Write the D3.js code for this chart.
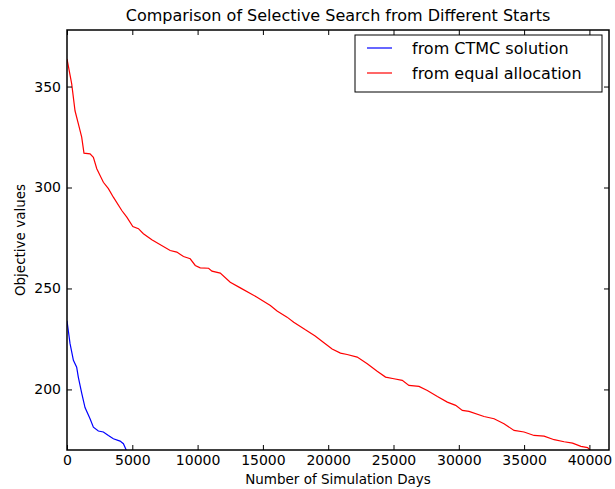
<!DOCTYPE html>
<html lang="en">
  <head>
    <meta charset="UTF-8" />
    <title>selective search comparison</title>
    <style type="text/css">
      html,
      body {
        margin: 0;
        padding: 0;
        background: #fff;
        font-family: "DejaVu Sans", sans-serif;
      }

      .tick text {
        font-size: 14px;
        font-family: "DejaVu Sans", sans-serif;
        fill: #000;
      }

      .tick line,
      .domain {
        stroke: #000;
      }
    </style>
  </head>
  <body>
    <div id="chart"></div>

    <script src="https://cdn.jsdelivr.net/npm/d3@7"></script>
    <script>
      // === Data === //

      var ctmcDays = [0, 230, 490, 740, 870, 1130, 1380, 1765, 2020, 2400, 2785, 3170, 3550, 4065, 4320, 4525, 4650];
      var ctmcValues = [234, 222.8, 214.4, 211, 206, 198, 191, 185.5, 181.3, 179.4, 178.9, 177.2, 175.6, 174.4, 173.1, 170.1, 168];

      var equalDays = [0, 360, 614, 870, 1125, 1300, 1765, 2020, 2280, 2785, 3170, 3550, 4195, 4580, 5040,
        5470, 5850, 6495, 7900, 8410, 8920, 9435, 9820, 10200, 10840, 11100, 11735, 12500, 13270, 14550,
        15570, 16085, 16850, 17360, 18255, 19000, 19700, 20300, 20940, 21450, 22220, 22990, 23750, 24390,
        25030, 25670, 26180, 26950, 27590, 28360, 29120, 29760, 30270, 30780, 31930, 32700, 33460, 34230,
        34995, 35760, 36530, 37300, 38065, 38710, 39350, 39860, 40170];
      var equalValues = [363.7, 351.3, 338, 331.5, 324.9, 317, 316.7, 315, 309.3, 302.6, 299.4, 295.2, 288.6, 285.3, 280.7,
        279.6, 277.1, 274.1, 268.8, 268, 265.8, 264.7, 261.4, 260.2, 260, 258.6, 257.6, 253.1, 250.3, 245.7,
        241.6, 238.8, 235.8, 233.3, 229.5, 226.5, 223, 220, 218, 217.3, 216, 212.7, 209, 206.1,
        205.3, 204.5, 202, 201.5, 199.5, 196.5, 193.7, 192.1, 189.6, 189.1, 186.6, 185.5, 183, 179.7,
        178.9, 177.2, 176.9, 175.1, 174.1, 173.4, 171.8, 171.2, 169.2];

      var xTicks = [0, 5000, 10000, 15000, 20000, 25000, 30000, 35000, 40000];
      var yTicks = [200, 250, 300, 350];

      var seriesNames = ["from CTMC solution", "from equal allocation"];
      var seriesColours = ["#0000ff", "#ff0000"];

      // === Layout === //

      var width = 615,
        height = 489;
      var plot = { left: 67, right: 609, top: 30, bottom: 450 };

      var svg = d3
        .select("#chart")
        .append("svg")
        .attr("width", width)
        .attr("height", height);

      var x = d3.scaleLinear().domain([0, 41500]).range([plot.left, plot.right]);
      var y = d3.scaleLinear().domain([170, 378]).range([plot.bottom, plot.top]);

      svg
        .append("clipPath")
        .attr("id", "clip")
        .append("rect")
        .attr("x", plot.left)
        .attr("y", plot.top)
        .attr("width", plot.right - plot.left)
        .attr("height", plot.bottom - plot.top);

      // === Lines === //

      var line = d3
        .line()
        .x(function(d) {
          return x(d[0]);
        })
        .y(function(d) {
          return y(d[1]);
        });

      var series = [d3.zip(ctmcDays, ctmcValues), d3.zip(equalDays, equalValues)];

      svg
        .append("g")
        .attr("clip-path", "url(#clip)")
        .selectAll("path")
        .data(series)
        .enter()
        .append("path")
        .attr("d", line)
        .attr("fill", "none")
        .attr("stroke-width", 1.2)
        .attr("stroke", function(d, i) {
          return seriesColours[i];
        });

      // === Axes (ticks inside, on all four sides) === //

      var tickLen = 5;

      svg
        .append("g")
        .attr("transform", "translate(0," + plot.bottom + ")")
        .call(d3.axisBottom(x).tickValues(xTicks).tickFormat(d3.format("d")).tickSizeInner(-tickLen).tickSizeOuter(0).tickPadding(5))
        .call(function(g) {
          g.select(".domain").remove();
        });

      svg
        .append("g")
        .attr("transform", "translate(0," + plot.top + ")")
        .call(d3.axisTop(x).tickValues(xTicks).tickFormat("").tickSizeInner(-tickLen).tickSizeOuter(0))
        .call(function(g) {
          g.select(".domain").remove();
        });

      svg
        .append("g")
        .attr("transform", "translate(" + plot.left + ",0)")
        .call(d3.axisLeft(y).tickValues(yTicks).tickFormat(d3.format("d")).tickSizeInner(-tickLen).tickSizeOuter(0).tickPadding(6))
        .call(function(g) {
          g.select(".domain").remove();
        });

      svg
        .append("g")
        .attr("transform", "translate(" + plot.right + ",0)")
        .call(d3.axisRight(y).tickValues(yTicks).tickFormat("").tickSizeInner(-tickLen).tickSizeOuter(0))
        .call(function(g) {
          g.select(".domain").remove();
        });

      svg
        .append("rect")
        .attr("x", plot.left)
        .attr("y", plot.top)
        .attr("width", plot.right - plot.left)
        .attr("height", plot.bottom - plot.top)
        .attr("fill", "none")
        .attr("stroke", "#000")
        .attr("stroke-width", 1.5);

      // === Text === //

      svg
        .append("text")
        .attr("x", (plot.left + plot.right) / 2)
        .attr("y", 21)
        .attr("text-anchor", "middle")
        .style("font-size", "16px")
        .text("Comparison of Selective Search from Different Starts");

      svg
        .append("text")
        .attr("x", (plot.left + plot.right) / 2)
        .attr("y", 484)
        .attr("text-anchor", "middle")
        .style("font-size", "13.5px")
        .text("Number of Simulation Days");

      svg
        .append("text")
        .attr("transform", "translate(25," + (plot.top + plot.bottom) / 2 + ") rotate(-90)")
        .attr("text-anchor", "middle")
        .style("font-size", "13.5px")
        .text("Objective values");

      // === Legend === //

      var legend = svg.append("g").attr("transform", "translate(355,35)");

      legend
        .append("rect")
        .attr("width", 247)
        .attr("height", 57)
        .attr("fill", "#fff")
        .attr("stroke", "#000")
        .attr("stroke-width", 1);

      var entry = legend
        .selectAll("g.entry")
        .data(seriesNames)
        .enter()
        .append("g")
        .attr("class", "entry")
        .attr("transform", function(d, i) {
          return "translate(0," + (13 + i * 25) + ")";
        });

      entry
        .append("line")
        .attr("x1", 12)
        .attr("x2", 37)
        .attr("stroke-width", 1.2)
        .attr("stroke", function(d, i) {
          return seriesColours[i];
        });

      entry
        .append("text")
        .attr("x", 57)
        .attr("dy", "0.35em")
        .style("font-size", "16px")
        .text(function(d) {
          return d;
        });
    </script>
  </body>
</html>
